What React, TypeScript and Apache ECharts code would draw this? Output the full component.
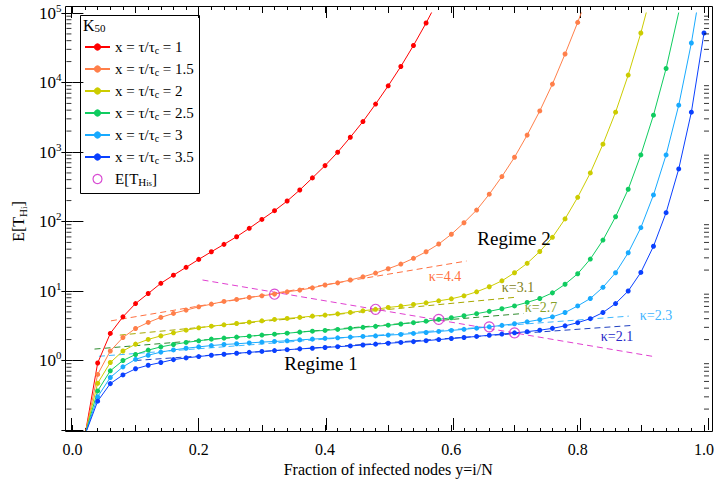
import { useEffect, useRef } from 'react';
import * as echarts from 'echarts';

const SERIF = 'Liberation Serif, Times New Roman, serif';

// x = i/N for K50 (N = 50)
const X_VALUES = [0.02, 0.04, 0.06, 0.08, 0.10, 0.12, 0.14, 0.16, 0.18, 0.20, 0.22, 0.24, 0.26, 0.28, 0.30, 0.32, 0.34, 0.36, 0.38, 0.40, 0.42, 0.44, 0.46, 0.48, 0.50, 0.52, 0.54, 0.56, 0.58, 0.60, 0.62, 0.64, 0.66, 0.68, 0.70, 0.72, 0.74, 0.76, 0.78, 0.80, 0.82, 0.84, 0.86, 0.88, 0.90, 0.92, 0.94, 0.96, 0.98, 1.00];

const T_X1 = [0.085, 0.92, 2.45, 4.25, 6.6, 9.2, 12.9, 16.9, 21.9, 28.5, 36.7, 46.9, 60.4, 79.8, 107, 143, 197, 284, 424, 637, 993, 1630, 2740, 4890, 8960, 17000, 34100, 71800, 160000];
const T_X15 = [0.085, 0.63, 1.37, 2.14, 2.89, 3.53, 4.17, 4.76, 5.31, 5.92, 6.47, 7.08, 7.57, 8.09, 8.53, 9.02, 9.73, 10.3, 11.1, 12.2, 13.1, 14.4, 16.0, 18.1, 20.9, 24.4, 29.5, 36.7, 47.4, 65.5, 96, 146, 247, 443, 841, 1750, 3900, 9480, 25700, 73300, 224000];
const T_X2 = [0.085, 0.47, 0.935, 1.37, 1.72, 2.01, 2.26, 2.5, 2.73, 2.95, 3.12, 3.26, 3.41, 3.56, 3.72, 3.9, 4.03, 4.17, 4.35, 4.5, 4.69, 4.92, 5.19, 5.45, 5.8, 6.06, 6.41, 6.76, 7.22, 7.72, 8.53, 9.73, 11.5, 14.0, 18.3, 25.0, 37.0, 59.2, 109, 223, 500, 1295, 3740, 12800, 51500, 250000];
const T_X25 = [0.085, 0.365, 0.71, 1.0, 1.22, 1.41, 1.57, 1.70, 1.82, 1.92, 2.03, 2.1, 2.17, 2.24, 2.32, 2.39, 2.47, 2.56, 2.64, 2.71, 2.8, 2.9, 3.0, 3.1, 3.22, 3.35, 3.5, 3.68, 3.9, 4.12, 4.4, 4.72, 5.1, 5.55, 6.1, 6.85, 7.8, 9.4, 12.5, 17.7, 28.8, 54, 117, 291, 908, 3390, 15900, 102000, 900000];
const T_X3 = [0.085, 0.3, 0.57, 0.81, 1.04, 1.19, 1.32, 1.42, 1.5, 1.57, 1.64, 1.7, 1.74, 1.79, 1.84, 1.88, 1.92, 1.98, 2.03, 2.08, 2.12, 2.17, 2.22, 2.26, 2.32, 2.37, 2.45, 2.53, 2.62, 2.71, 2.81, 2.92, 3.05, 3.2, 3.38, 3.6, 3.87, 4.25, 4.9, 6.1, 7.8, 11.3, 18.3, 35.5, 81.5, 241, 908, 4720, 37000, 450000];
const T_X35 = [0.085, 0.26, 0.465, 0.62, 0.76, 0.855, 0.935, 1.03, 1.09, 1.14, 1.19, 1.23, 1.27, 1.31, 1.35, 1.39, 1.43, 1.47, 1.5, 1.54, 1.58, 1.62, 1.67, 1.72, 1.77, 1.82, 1.87, 1.93, 2.0, 2.07, 2.14, 2.22, 2.31, 2.4, 2.5, 2.6, 2.73, 2.9, 3.15, 3.5, 4.0, 4.9, 6.6, 10.0, 18.5, 44, 134, 571, 3740, 51500];

const SERIES_NAMES = ['x = τ/τ_c = 1', 'x = τ/τ_c = 1.5', 'x = τ/τ_c = 2', 'x = τ/τ_c = 2.5', 'x = τ/τ_c = 3', 'x = τ/τ_c = 3.5'];
const SERIES_VALUES = [T_X1, T_X15, T_X2, T_X25, T_X3, T_X35];
const SERIES_COLORS = ['#ff0000', '#ff7f4a', '#cccc00', '#10cc60', '#18aaff', '#0a40ff'];

// E[T_His] points
const HIS_X = [0.32, 0.48, 0.58, 0.66, 0.70];
const HIS_Y = [9.0, 5.45, 3.9, 3.05, 2.5];
const HIS_NAME = 'E[T_His]';

// dashed fits (start / end, in data units)
const FIT_X = [[0.061, 0.624], [0.075, 0.70], [0.035, 0.714], [0.042, 0.881], [0.10, 0.887]];
const FIT_Y = [[3.72, 27.0], [2.32, 8.1], [1.46, 4.75], [1.15, 4.35], [1.0, 3.2]];
const FIT_COLORS = ['#ff7040', '#a8a800', '#2e8b2e', '#40b8ff', '#2040c0'];
const BOUNDARY_X = [0.206, 0.918];
const BOUNDARY_Y = [14.4, 1.15];

const KAPPA_LABELS = ['κ=4.4', 'κ=3.1', 'κ=2.7', 'κ=2.3', 'κ=2.1'];
const KAPPA_COLORS = ['#ff7040', '#7f7f1a', '#85a02a', '#40b4ff', '#2828c8'];

const Y_DECADES = [-1, 0, 1, 2, 3, 4];
const Y_MINOR_MULT = [2, 3, 4, 5, 6, 7, 8, 9];

// layout
const GRID = { left: 71, right: 9, top: 13, bottom: 54 };
const FRAME = { left: 65, right: 4, top: 6, bottom: 52 };
const W = 717;
const H = 484;
const Y_MIN = 0.1;
const Y_MAX = 100000;

export default function App() {
  const ref = useRef<HTMLDivElement>(null);

  useEffect(() => {
    if (!ref.current) return;
    const chart = echarts.init(ref.current, undefined, { renderer: 'svg' });

    const offL = GRID.left - FRAME.left;
    const offR = GRID.right - FRAME.right;
    const offT = GRID.top - FRAME.top;
    const offB = GRID.bottom - FRAME.bottom;
    const BLACK = { color: '#000', width: 1 };

    // log minor ticks (2..9 x 10^k) on left and right frame sides, as small rect symbols
    const minorItems: any[] = [];
    Y_DECADES.forEach((e) =>
      Y_MINOR_MULT.forEach((m) => {
        const v = m * Math.pow(10, e);
        minorItems.push({ value: [0, v], symbolSize: [5, 1], symbolOffset: [-offL + 2.5, 0] });
        minorItems.push({ value: [1, v], symbolSize: [5, 1], symbolOffset: [offR - 2.5, 0] });
      })
    );
    const minorTickSeries = {
      type: 'scatter',
      name: 'logMinorTicks',
      xAxisIndex: 0,
      yAxisIndex: 0,
      data: minorItems,
      symbol: 'rect',
      clip: false,
      silent: true,
      itemStyle: { color: '#000' },
      z: 7,
    };

    const lineSeries = SERIES_NAMES.map((name, si) => ({
      type: 'line',
      name,
      xAxisIndex: 0,
      yAxisIndex: 0,
      data: SERIES_VALUES[si].map((v, i) => [X_VALUES[i], v]),
      symbol: 'circle',
      symbolSize: 5,
      showSymbol: true,
      clip: true,
      lineStyle: { color: SERIES_COLORS[si], width: 1 },
      itemStyle: { color: SERIES_COLORS[si] },
      z: 4,
    }));

    const fitSeries = FIT_X.map((xs, fi) => ({
      type: 'line',
      name: 'fit' + fi,
      xAxisIndex: 0,
      yAxisIndex: 0,
      data: xs.map((x, j) => [x, FIT_Y[fi][j]]),
      symbol: 'none',
      clip: true,
      lineStyle: { color: FIT_COLORS[fi], width: 1, type: [6, 4] },
      z: 3,
    }));

    const boundarySeries = {
      type: 'line',
      name: 'boundary',
      data: BOUNDARY_X.map((x, j) => [x, BOUNDARY_Y[j]]),
      symbol: 'none',
      clip: true,
      lineStyle: { color: '#e040d0', width: 1, type: [6, 4] },
      z: 3,
    };

    const hisSeries = {
      type: 'scatter',
      name: HIS_NAME,
      data: HIS_X.map((x, i) => [x, HIS_Y[i]]),
      symbol: 'circle',
      symbolSize: 10,
      itemStyle: { color: 'rgba(255,255,255,0)', borderColor: '#d020c8', borderWidth: 1.2 },
      z: 6,
    };

    const legendRich = {
      sub: { fontSize: 10, fontFamily: SERIF, color: '#000', lineHeight: 8, verticalAlign: 'bottom' },
      h: { fontSize: 11, fontFamily: SERIF, color: '#000', lineHeight: 8, verticalAlign: 'bottom' },
      i: { fontSize: 9, fontFamily: SERIF, color: '#000', lineHeight: 4, verticalAlign: 'bottom' },
      s: { fontSize: 8, fontFamily: SERIF, color: '#000', lineHeight: 1, verticalAlign: 'bottom' },
    };

    const annText = (text: string, x: number, y: number, size: number, color: string) => ({
      type: 'text',
      x,
      y,
      silent: true,
      style: {
        text,
        fill: color,
        fontSize: size,
        fontFamily: SERIF,
        align: 'center',
        verticalAlign: 'middle',
      },
      z: 20,
    });

    const KAPPA_POS = [
      [445, 276],
      [518, 287],
      [541, 307],
      [656, 315],
      [617, 336],
    ];

    const graphicEls: any[] = [
      // plot frame
      {
        type: 'rect',
        silent: true,
        shape: { x: FRAME.left + 0.5, y: FRAME.top + 0.5, width: W - FRAME.left - FRAME.right - 1, height: H - FRAME.top - FRAME.bottom - 1 },
        style: { fill: 'none', stroke: '#000', lineWidth: 1 },
        z: 1,
      },
      // legend frame
      {
        type: 'rect',
        silent: true,
        shape: { x: 80.5, y: 15.5, width: 119, height: 178 },
        style: { fill: 'none', stroke: '#000', lineWidth: 1 },
        z: 1,
      },
      {
        type: 'text',
        x: 83,
        y: 25,
        silent: true,
        style: {
          text: 'K{s|50}',
          fontSize: 16,
          fontFamily: SERIF,
          fill: '#000',
          verticalAlign: 'middle',
          rich: { s: { fontSize: 11, fontFamily: SERIF, fill: '#000', lineHeight: 8, verticalAlign: 'bottom' } },
        },
        z: 20,
      },
      annText('Regime 1', 321, 363, 19, '#000'),
      annText('Regime 2', 514, 238, 19, '#000'),
      ...KAPPA_LABELS.map((t, i) => annText(t, KAPPA_POS[i][0], KAPPA_POS[i][1], 14, KAPPA_COLORS[i])),
    ];

    const xTickAxis = (gridIndex: number, position: string, offset: number, interval: number, len: number, minor: boolean, labels: boolean) => ({
      type: 'value',
      gridIndex,
      position,
      min: 0,
      max: 1,
      interval,
      offset,
      axisLine: { show: false },
      splitLine: { show: false },
      axisTick: { show: true, inside: true, length: len, lineStyle: BLACK },
      minorTick: { show: minor, splitNumber: 5, length: 4, lineStyle: BLACK },
      axisLabel: labels
        ? {
            margin: 9,
            color: '#000',
            fontFamily: SERIF,
            fontSize: 16,
            formatter: (v: number) => (Math.round(v * 10) % 2 === 0 ? v.toFixed(1) : ''),
          }
        : { show: false },
    });

    const xMain: any = xTickAxis(0, 'bottom', offB, 0.1, 7, true, true);
    xMain.name = 'Fraction of infected nodes y=i/N';
    xMain.nameLocation = 'middle';
    xMain.nameGap = 27;
    xMain.nameTextStyle = { color: '#000', fontFamily: SERIF, fontSize: 16 };

    const yLog = (position: string, offset: number, labels: boolean) => ({
      type: 'log',
      logBase: 10,
      gridIndex: 0,
      position,
      min: Y_MIN,
      max: Y_MAX,
      splitNumber: 6,
      offset,
      axisLine: { show: false },
      splitLine: { show: false },
      axisTick: { show: true, inside: true, length: 11, lineStyle: BLACK },
      axisLabel: labels
        ? {
            margin: 5,
            color: '#000',
            fontFamily: SERIF,
            formatter: (v: number) => {
              const e = Math.round(Math.log10(v));
              if (e < 0) return '';
              return `{b|10}{p|${e}}`;
            },
            rich: {
              b: { fontSize: 17, fontFamily: SERIF, color: '#000', lineHeight: 22 },
              p: { fontSize: 11, fontFamily: SERIF, color: '#000', lineHeight: 10, verticalAlign: 'top' },
            },
          }
        : { show: false },
    });

    const yMain: any = yLog('left', offL, true);
    yMain.name = 'E[T{h|H}{i|i}]';
    yMain.nameLocation = 'middle';
    yMain.nameGap = 34;
    yMain.nameTextStyle = {
      color: '#000',
      fontFamily: SERIF,
      fontSize: 16,
      lineHeight: 20,
      rich: {
        h: { fontSize: 11, fontFamily: SERIF, color: '#000', lineHeight: 9, verticalAlign: 'bottom' },
        i: { fontSize: 9, fontFamily: SERIF, color: '#000', lineHeight: 4, verticalAlign: 'bottom' },
      },
    };

    chart.setOption({
      animation: false,
      backgroundColor: '#fff',
      tooltip: { show: false },
      grid: [
        { left: GRID.left, right: GRID.right, top: GRID.top, bottom: GRID.bottom },
        { left: GRID.left, right: GRID.right, top: GRID.top, bottom: GRID.bottom },
      ],
      xAxis: [
        xMain,
        xTickAxis(0, 'top', offT, 0.1, 7, true, false),
        xTickAxis(1, 'bottom', offB, 0.2, 12, false, false),
        xTickAxis(1, 'top', offT, 0.2, 12, false, false),
      ],
      yAxis: [
        yMain,
        yLog('right', offR, false),
        { type: 'value', gridIndex: 1, min: 0, max: 1, show: false },
      ],
      legend: {
        data: [
          ...SERIES_NAMES,
          {
            name: HIS_NAME,
            icon: 'circle',
            itemStyle: { color: 'rgba(255,255,255,0)', borderColor: '#d020c8', borderWidth: 1.2 },
          },
        ],
        orient: 'vertical',
        left: 84,
        top: 39,
        itemWidth: 25,
        itemHeight: 9,
        itemGap: 6,
        selectedMode: false,
        padding: 0,
        textStyle: { fontFamily: SERIF, fontSize: 15, color: '#000', lineHeight: 16, rich: legendRich },
        formatter: (name: string) => {
          if (name === HIS_NAME) return 'E[T{h|H}{i|i}{s|s}]';
          return name.replace('_c', '{sub|c}');
        },
      },
      graphic: { elements: graphicEls },
      series: [minorTickSeries, ...fitSeries, boundarySeries, ...lineSeries, hisSeries],
    });

    return () => chart.dispose();
  }, []);

  return <div ref={ref} style={{ position: 'absolute', left: 0, top: 0, width: W, height: H }} />;
}
